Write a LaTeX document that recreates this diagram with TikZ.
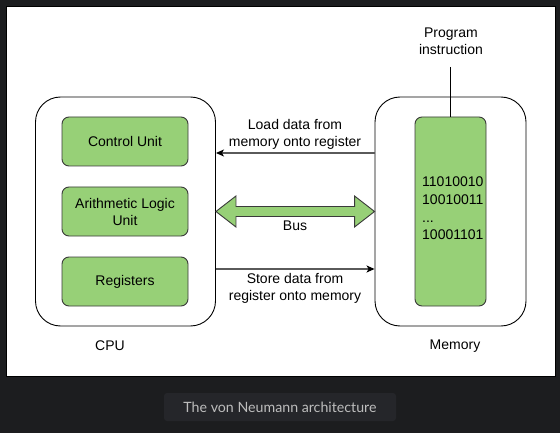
\documentclass[tikz,border=0pt]{standalone}
\usepackage{fontspec}
\setmainfont{Liberation Sans}
\newfontfamily\capfont{Lato}
\usetikzlibrary{arrows.meta,calc}
\definecolor{pagebg}{HTML}{1C1D1F}
\definecolor{capbg}{HTML}{25262A}
\definecolor{captext}{HTML}{BDBDBD}
\definecolor{unitgreen}{HTML}{97D077}
\definecolor{unitstroke}{HTML}{3A3A3A}
\definecolor{wiregray}{HTML}{5A5A5A}
\tikzset{
  outerbox/.style={draw=black, line width=0.9pt, rounded corners=25pt, inner sep=0pt},
  unitbox/.style={draw=unitstroke, fill=unitgreen, line width=0.9pt, rounded corners=7pt,
    minimum width=126pt, minimum height=49pt, align=center, inner sep=0pt, font=\fontsize{14}{17}\selectfont},
  lbl/.style={align=center, inner sep=0pt, font=\fontsize{14}{17}\selectfont},
  wire/.style={draw=wiregray, line width=1.4pt, -{Stealth[length=8pt,width=7pt,inset=2pt,color=black]}},
}
\begin{document}
\begin{tikzpicture}[x=1pt,y=-1pt]
\useasboundingbox (0,0) rectangle (560,433);
\fill[pagebg] (0,0) rectangle (560,433);
\draw[black, line width=1pt, fill=white] (6,6.5) rectangle (555,376);
% caption
\node[fill=capbg, rounded corners=3pt, minimum width=232pt, minimum height=28pt, inner sep=0pt,
  text=captext, font=\capfont\fontsize{14.2}{17}\selectfont] (cap) at (280,407) {The von Neumann architecture};
% outer boxes
\node[outerbox, minimum width=180pt, minimum height=229pt] (cpu) at (125.5,211.5) {};
\node[outerbox, minimum width=151pt, minimum height=229pt] (mem) at (450.5,211.5) {};
% CPU units
\node[unitbox] (cu) at (125,141.5) {Control Unit};
\node[unitbox] (alu) at (125,211.5) {Arithmetic Logic\\Unit};
\node[unitbox] (reg) at (125,281.5) {Registers};
% memory cells
\node[unitbox, minimum width=71pt, minimum height=189pt] (memg) at (450.5,211.5) {};
\node[align=left, inner sep=0pt, anchor=north west, font=\fontsize{14}{17.6}\selectfont] (bits) at (422,177) {11010010\\10010011\\...\\10001101};
% labels
\node[lbl] (cpul) at (110,346) {CPU};
\node[lbl] (meml) at (455,346) {Memory};
\node[lbl] (prog) at (451,41.5) {Program\\instruction};
\coordinate (progend) at (450,67);
\draw[black, line width=0.9pt] (progend) -- (progend |- memg.north);
% load arrow
\coordinate (loady) at (0,153);
\draw[wire] (mem.west |- loady) -- (cpu.east |- loady);
\node[lbl] (loadl) at (295,134.5) {Load data from\\memory onto register};
% store arrow
\coordinate (storey) at (0,269);
\draw[wire] (cpu.east |- storey) -- (mem.west |- storey);
\node[lbl] (storel) at (295,288) {Store data from\\register onto memory};
% bus
\coordinate (busy) at (0,211.5);
\coordinate (bl) at (cpu.east |- busy);
\coordinate (br) at (mem.west |- busy);
\draw[draw=unitstroke, fill=unitgreen, line width=0.9pt, line join=miter]
  (bl) -- ++(20,-15.5) -- ++(0,10.5) -- ($(br)+(-20,-5)$) -- ++(0,-10.5) -- (br)
  -- ++(-20,15.5) -- ++(0,-10.5) -- ($(bl)+(20,5)$) -- ++(0,10.5) -- cycle;
\node[lbl] (busl) at (295,226) {Bus};
\end{tikzpicture}
\end{document}
